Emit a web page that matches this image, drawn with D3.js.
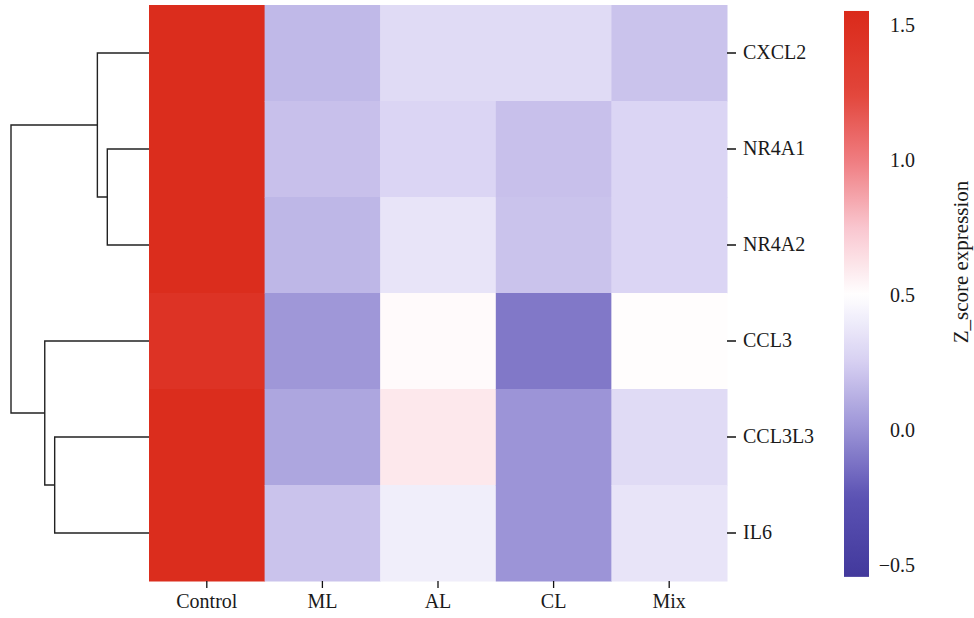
<!DOCTYPE html>
<html>
<head>
<meta charset="utf-8">
<script src="https://cdn.jsdelivr.net/npm/d3@7"></script>
<style>
  html, body { margin: 0; padding: 0; background: #ffffff; }
  svg { display: block; }
  svg text { font-family: "Liberation Serif", "DejaVu Serif", "Noto Serif", "Times New Roman", serif !important; fill: #1a1a1a; }
</style>
</head>
<body>
<svg id="chart" width="974" height="618"></svg>
<script>
// ---- data ----
const genes = ["CXCL2", "NR4A1", "NR4A2", "CCL3", "CCL3L3", "IL6"];
const groups = ["Control", "ML", "AL", "CL", "Mix"];
const valuesControl = [1.52, 1.52, 1.52, 1.45, 1.52, 1.52];
const valuesML      = [0.16, 0.19, 0.15, 0.02, 0.08, 0.20];
const valuesAL      = [0.31, 0.28, 0.36, 0.52, 0.60, 0.41];
const valuesCL      = [0.31, 0.19, 0.20, -0.10, 0.01, 0.01];
const valuesMix     = [0.20, 0.28, 0.28, 0.51, 0.31, 0.36];
const colorbarTicks = [-0.5, 0.0, 0.5, 1.0, 1.5];
const colorbarRange = [-0.544, 1.552];
const colorStops = [-0.55, -0.25, 0.0, 0.25, 0.5, 0.75, 1.0, 1.25, 1.55];
const colorHex   = ["#42389c", "#5b52b3", "#9a92d6", "#d6cff2", "#ffffff", "#f9c6cf", "#ef7c80", "#e2453a", "#da2a1a"];
// dendrogram merges (left child, right child, height); "n#" refers to merge index
const mergeLeft   = ["NR4A1", "CXCL2", "CCL3L3", "CCL3", "n1"];
const mergeRight  = ["NR4A2", "n0",    "IL6",    "n2",   "n3"];
const mergeHeight = [0.42,    0.52,    0.95,     1.05,   1.39];

const seriesByGroup = [valuesControl, valuesML, valuesAL, valuesCL, valuesMix];
const cells = [];
groups.forEach((g, gi) => genes.forEach((gene, ri) => cells.push({ group: g, gene: gene, value: seriesByGroup[gi][ri] })));

const FONT = "'Liberation Serif', 'DejaVu Serif', 'Noto Serif', 'Times New Roman', serif";
const svg = d3.select("#chart");

// ---- scales ----
const x = d3.scaleBand().domain(groups).range([149, 727]).padding(0);
const y = d3.scaleBand().domain(genes).range([5, 581]).padding(0);
const color = d3.scaleLinear().domain(colorStops).range(colorHex).clamp(true);

// ---- heatmap ----
svg.append("g").selectAll("rect").data(cells).join("rect")
  .attr("x", d => x(d.group))
  .attr("y", d => y(d.gene))
  .attr("width", x.bandwidth() + 0.5)
  .attr("height", y.bandwidth() + 0.5)
  .attr("fill", d => color(d.value));

// ---- axes ----
const xAxis = svg.append("g").attr("transform", "translate(0,581)")
  .call(d3.axisBottom(x).tickSize(7).tickPadding(6));
xAxis.attr("font-family", FONT).attr("font-size", 20);
xAxis.select(".domain").remove();
xAxis.selectAll("line").attr("stroke", "#111").attr("stroke-width", 1.3);
xAxis.selectAll("text").attr("fill", "#1a1a1a");

const yAxis = svg.append("g").attr("transform", "translate(727,0)")
  .call(d3.axisRight(y).tickSize(9).tickPadding(7));
yAxis.attr("font-family", FONT).attr("font-size", 20);
yAxis.select(".domain").remove();
yAxis.selectAll("line").attr("stroke", "#111").attr("stroke-width", 1.5);
yAxis.selectAll("text").attr("fill", "#1a1a1a");

// ---- dendrogram ----
const dx = d3.scaleLinear().domain([0, 1.39]).range([149, 11]);
const nodes = {};
genes.forEach(g => { nodes[g] = { y: y(g) + y.bandwidth() / 2, h: 0 }; });
const segs = [];
mergeLeft.forEach((l, i) => {
  const a = nodes[l], b = nodes[mergeRight[i]], h = mergeHeight[i];
  segs.push([[dx(a.h), a.y], [dx(h), a.y], [dx(h), b.y], [dx(b.h), b.y]]);
  nodes["n" + i] = { y: (a.y + b.y) / 2, h: h };
});
svg.append("g").selectAll("path").data(segs).join("path")
  .attr("d", d => d3.line()(d))
  .attr("fill", "none")
  .attr("stroke", "#222")
  .attr("stroke-width", 1.4);

// ---- colorbar ----
const cb = d3.scaleLinear().domain([-0.5, 1.5]).range([565, 25]);
const defs = svg.append("defs");
const grad = defs.append("linearGradient").attr("id", "cbgrad")
  .attr("x1", 0).attr("y1", 1).attr("x2", 0).attr("y2", 0);
const nStops = 60;
d3.range(nStops + 1).forEach(i => {
  const v = colorbarRange[0] + (colorbarRange[1] - colorbarRange[0]) * i / nStops;
  grad.append("stop").attr("offset", (i / nStops)).attr("stop-color", color(v));
});
svg.append("rect")
  .attr("x", 844).attr("width", 25)
  .attr("y", cb(colorbarRange[1]))
  .attr("height", cb(colorbarRange[0]) - cb(colorbarRange[1]))
  .attr("fill", "url(#cbgrad)");

svg.append("g").attr("font-family", FONT).attr("font-size", 20)
  .selectAll("text").data(colorbarTicks).join("text")
  .attr("x", 915)
  .attr("y", d => cb(d))
  .attr("dy", "0.35em")
  .attr("text-anchor", "end")
  .text(d => d3.format(".1f")(d).replace("-", "\u2212"));

svg.append("text")
  .attr("font-family", FONT).attr("font-size", 21)
  .attr("transform", "translate(968,262) rotate(-90)")
  .attr("text-anchor", "middle")
  .text("Z_score expression");
</script>
</body>
</html>
